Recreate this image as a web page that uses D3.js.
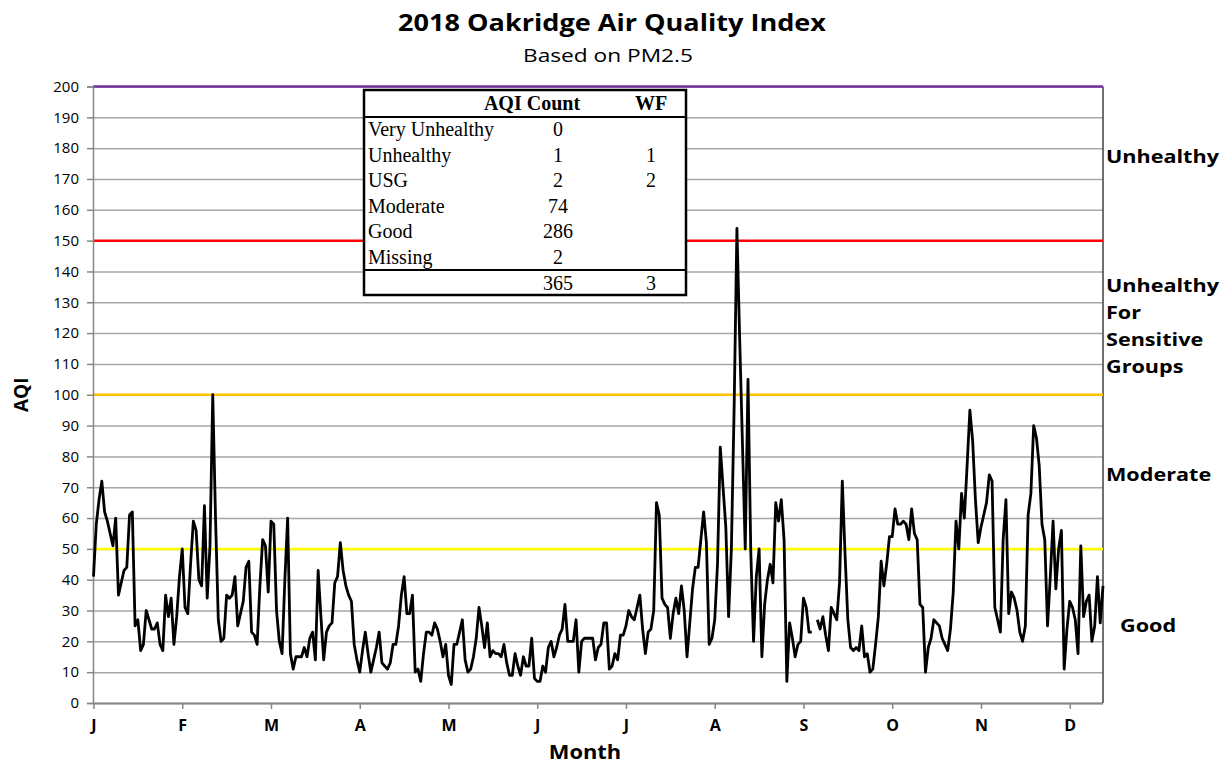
<!DOCTYPE html>
<html>
<head>
<meta charset="utf-8">
<script src="https://cdn.jsdelivr.net/npm/d3@7"></script>
<style>
  body { margin: 0; background: #fff; }
  svg { display: block; font-family: "Open Sans", Lato, sans-serif; }
</style>
</head>
<body>
<svg id="chart" width="1228" height="765"></svg>
<script>
// daily AQI, 1 Jan .. 31 Dec 2018 (null = missing)
const aqi = [
  41, 58, 66, 72, 62, 59, 55, 51, 60, 35,
  39, 43, 44, 61, 62, 25, 27, 17, 19, 30,
  27, 24, 24, 26, 19, 17, 35, 28, 34, 19,
  28, 41, 50, 31, 29, 45, 59, 56, 40, 38,
  64, 34, 51, 100, 60, 27, 20, 21, 35, 34,
  35, 41, 25, 29, 33, 44, 46, 23, 22, 19,
  38, 53, 51, 36, 59, 58, 30, 20, 16, 40,
  60, 16, 11, 15, 15, 15, 18, 15, 21, 23,
  14, 43, 28, 14, 23, 25, 26, 39, 41, 52,
  43, 38, 35, 33, 19, 14, 10, 17, 23, 16,
  10, 14, 18, 23, 13, 12, 11, 13, 19, 19,
  25, 35, 41, 29, 29, 35, 10, 11, 7, 16,
  23, 23, 22, 26, 24, 20, 15, 19, 9, 6,
  19, 19, 23, 27, 14, 10, 11, 15, 21, 31,
  25, 18, 26, 15, 17, 16, 16, 15, 19, 13,
  9, 9, 16, 12, 9, 15, 12, 12, 21, 8,
  7, 7, 12, 10, 18, 20, 15, 18, 22, 24,
  32, 20, 20, 20, 27, 10, 20, 21, 21, 21,
  21, 14, 18, 19, 26, 26, 11, 12, 16, 14,
  22, 22, 25, 30, 28, 27, 31, 35, 24, 16,
  23, 24, 30, 65, 61, 34, 32, 31, 21, 29,
  34, 29, 38, 30, 15, 26, 37, 44, 44, 53,
  62, 52, 19, 21, 27, 45, 83, 70, 57, 28,
  50, 96, 154, 118, 84, 50, 105, 49, 20, 41,
  50, 15, 32, 40, 45, 39, 65, 59, 66, 53,
  7, 26, 21, 15, 19, 20, 34, 31, 23, 23,
  null, 27, 24, 28, 22, 17, 31, 29, 27, 39,
  72, 48, 27, 18, 17, 18, 17, 25, 15, 16,
  10, 11, 19, 28, 46, 38, 45, 54, 54, 63,
  58, 58, 59, 58, 53, 63, 55, 53, 32, 31,
  10, 18, 21, 27, 26, 25, 21, 19, 17, 24,
  36, 59, 50, 68, 60, 77, 95, 85, 66, 52,
  57, 61, 65, 74, 72, 31, 27, 23, 53, 66,
  29, 36, 34, 30, 23, 20, 25, 61, 68, 90,
  86, 77, 58, 53, 25, 41, 59, 37, 50, 56,
  11, 24, 33, 31, 27, 16, 51, 28, 33, 35,
  20, 25, 41, 26, 38
];

const monthLabels = ["J", "F", "M", "A", "M", "J", "J", "A", "S", "O", "N", "D"];
const tickEvery = 32;   // category axis: a tick every 32 points
const yTicks = d3.range(0, 201, 10);

// AQI breakpoints
const levels = [50, 100, 150, 200];
const levelColors = ["#FFFF00", "#FFC000", "#FF0000", "#7030A0"];

// labels on the right
const zoneNames = [["Good"], ["Moderate"], ["Unhealthy", "For", "Sensitive", "Groups"], ["Unhealthy"]];
const zoneAt = [25, 74, 122, 177];

// summary table
const tableHead = ["", "AQI Count", "WF"];
const tableRows = ["Very Unhealthy", "Unhealthy", "USG", "Moderate", "Good", "Missing"];
const tableCount = ["0", "1", "2", "74", "286", "2"];
const tableWF = ["", "1", "2", "", "", ""];
const tableTotal = ["", "365", "3"];

const svg = d3.select("#chart");
const pLeft = 93, pRight = 1103, pTop = 86.5, pBottom = 703;

const x = d3.scaleLinear().domain([0, aqi.length - 1]).range([pLeft + 0.5, pRight]);
const y = d3.scaleLinear().domain([0, 200]).range([pBottom, pTop]);

// the original text is a bit wider than Open Sans, widen it
function widen(sel, k) {
  sel.each(function () {
    const w = this.getComputedTextLength();
    d3.select(this).attr("textLength", w * k).attr("lengthAdjust", "spacingAndGlyphs");
  });
}

// gridlines
svg.append("g")
  .attr("transform", `translate(${pLeft},0)`)
  .call(d3.axisLeft(y).tickValues(yTicks).tickSize(-(pRight - pLeft)).tickFormat(""))
  .call(g => g.select(".domain").remove())
  .call(g => g.selectAll("line").attr("stroke", "#a6a6a6").attr("stroke-width", 1.5));

// right border of plot area
svg.append("line")
  .attr("x1", pRight).attr("x2", pRight).attr("y1", pTop).attr("y2", pBottom)
  .attr("stroke", "#404040").attr("stroke-width", 1.5);

// threshold lines
svg.selectAll(".level")
  .data(levels)
  .join("line")
  .attr("class", "level")
  .attr("x1", pLeft).attr("x2", pRight)
  .attr("y1", d => y(d)).attr("y2", d => y(d))
  .attr("stroke", (d, i) => levelColors[i])
  .attr("stroke-width", 2.5);

// y axis
svg.append("g")
  .attr("transform", `translate(${pLeft},0)`)
  .call(d3.axisLeft(y).tickValues(yTicks).tickSize(6).tickPadding(8))
  .call(g => g.select(".domain").attr("stroke", "#868686").attr("stroke-width", 1.5))
  .call(g => g.selectAll("line").attr("stroke", "#868686").attr("stroke-width", 1.5))
  .call(g => g.selectAll("text").attr("font-size", "15px").attr("fill", "#000")
    .attr("font-family", "'Open Sans', sans-serif"));

// x axis
svg.append("g")
  .attr("transform", `translate(0,${pBottom})`)
  .call(d3.axisBottom(x).tickValues(d3.range(0, aqi.length, tickEvery))
    .tickFormat((d, i) => monthLabels[i]).tickSize(6).tickPadding(11).tickSizeOuter(0))
  .call(g => g.select(".domain").attr("stroke", "#868686").attr("stroke-width", 2)
    .attr("d", `M${pLeft},0.5H${pRight}`))
  .call(g => g.selectAll("line").attr("stroke", "#868686").attr("stroke-width", 1.5))
  .call(g => g.selectAll("text").attr("font-size", "16px").attr("font-weight", "bold")
    .attr("fill", "#000").attr("font-family", "'Open Sans', sans-serif"));

// AQI line
const line = d3.line()
  .defined(d => d != null)
  .x((d, i) => x(i))
  .y(d => y(d));

svg.append("path")
  .datum(aqi)
  .attr("fill", "none")
  .attr("stroke", "#000")
  .attr("stroke-width", 2.8)
  .attr("stroke-linejoin", "round")
  .attr("d", line);

// titles
svg.append("text")
  .attr("x", 612).attr("y", 31)
  .attr("text-anchor", "middle")
  .attr("font-size", "24px").attr("font-weight", "bold")
  .attr("textLength", 428).attr("lengthAdjust", "spacingAndGlyphs")
  .text("2018 Oakridge Air Quality Index");

svg.append("text")
  .attr("x", 608).attr("y", 62)
  .attr("text-anchor", "middle")
  .attr("font-size", "18px")
  .attr("textLength", 170).attr("lengthAdjust", "spacingAndGlyphs")
  .text("Based on PM2.5");

svg.append("text")
  .attr("transform", `translate(28,${(pTop + pBottom) / 2}) rotate(-90)`)
  .attr("text-anchor", "middle")
  .attr("font-size", "19px").attr("font-weight", "bold")
  .text("AQI");

svg.append("text")
  .attr("x", 585).attr("y", 759)
  .attr("text-anchor", "middle")
  .attr("font-size", "19px").attr("font-weight", "bold")
  .text("Month")
  .call(widen, 1.15);

// zone labels on the right, one text per line
const zoneLines = zoneNames.flatMap((lines, i) =>
  lines.map((t, j) => ({ t, first: lines[0], yv: zoneAt[i], j, n: lines.length })));

svg.selectAll(".zone")
  .data(zoneLines)
  .join("text")
  .attr("class", "zone")
  .attr("x", d => d.first === "Good" ? 1120 : 1106)
  .attr("y", d => y(d.yv) - (d.n - 1) * 13.5 + d.j * 27 + 6)
  .attr("font-size", "18px").attr("font-weight", "bold")
  .text(d => d.t)
  .call(widen, 1.2);

// summary table
const tb = svg.append("g").attr("font-family", "'Liberation Serif', 'Times New Roman', serif");
const tx0 = 364, tx1 = 686, ty0 = 90, ty1 = 295, rowH = 25.6;
const colX = [368, 558, 651];
const headX = [368, 532, 651];

tb.append("rect")
  .attr("x", tx0).attr("y", ty0).attr("width", tx1 - tx0).attr("height", ty1 - ty0)
  .attr("fill", "#fff").attr("stroke", "#000").attr("stroke-width", 2.5);
tb.append("line").attr("x1", tx0).attr("x2", tx1).attr("y1", 117).attr("y2", 117)
  .attr("stroke", "#000").attr("stroke-width", 2);
tb.append("line").attr("x1", tx0).attr("x2", tx1).attr("y1", 270).attr("y2", 270)
  .attr("stroke", "#000").attr("stroke-width", 2);

tb.selectAll(".th")
  .data(tableHead)
  .join("text")
  .attr("class", "th")
  .attr("x", (d, i) => headX[i])
  .attr("y", 110)
  .attr("text-anchor", (d, i) => i === 0 ? "start" : "middle")
  .attr("font-size", "20px").attr("font-weight", "bold")
  .text(d => d);

const rowsG = tb.selectAll(".tr")
  .data(tableRows)
  .join("g")
  .attr("class", "tr")
  .attr("transform", (d, i) => `translate(0,${136 + i * rowH})`);

rowsG.append("text").attr("x", colX[0]).attr("font-size", "20px").text(d => d);
rowsG.append("text").attr("x", colX[1]).attr("text-anchor", "middle").attr("font-size", "20px")
  .text((d, i) => tableCount[i]);
rowsG.append("text").attr("x", colX[2]).attr("text-anchor", "middle").attr("font-size", "20px")
  .text((d, i) => tableWF[i]);

tb.selectAll(".tt")
  .data(tableTotal)
  .join("text")
  .attr("class", "tt")
  .attr("x", (d, i) => colX[i])
  .attr("y", 290)
  .attr("text-anchor", "middle")
  .attr("font-size", "20px")
  .text(d => d);
</script>
</body>
</html>
